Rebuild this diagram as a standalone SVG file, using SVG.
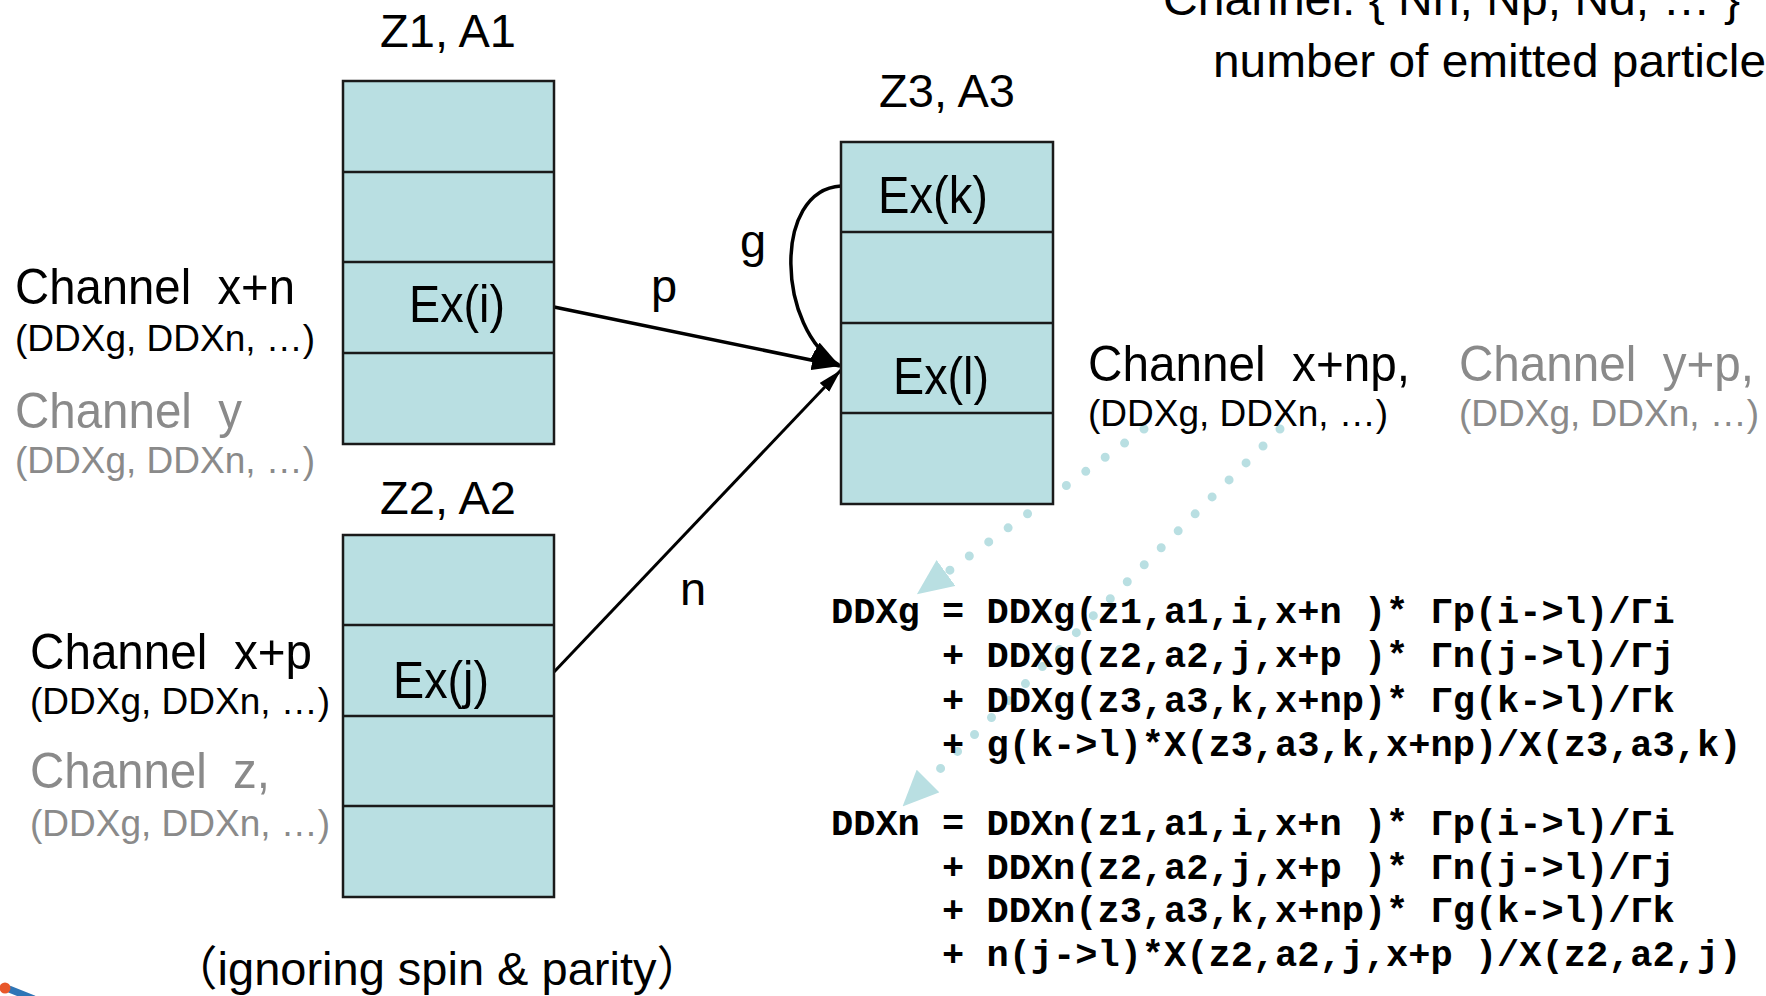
<svg xmlns="http://www.w3.org/2000/svg" width="1766" height="996" viewBox="0 0 1766 996">
  <style>
    .lvl { fill: #b9dfe2; stroke: #1a1a1a; stroke-width: 2.5; }
    .div { stroke: #1a1a1a; stroke-width: 2.5; }
    .sans { font-family: "Liberation Sans", Arial, sans-serif; fill: #000; }
    .big { font-size: 47px; }
    .ch { font-size: 50px; white-space: pre; }
    .ex { font-size: 51px; }
    .sub { font-size: 37px; }
    .grey { fill: #8a8a8a; }
    .eq { font-family: "Liberation Mono", "Courier New", monospace; font-weight: bold; font-size: 37px; fill: #000; white-space: pre; }
    .solid { fill: none; stroke: #000; stroke-width: 3.5; }
    .dots { fill: none; stroke: #b9dfe2; stroke-width: 9; stroke-linecap: round; stroke-dasharray: 0 24; }
  </style>
  <defs>
    <marker id="arrow" markerUnits="userSpaceOnUse" viewBox="0 0 28 20" markerWidth="28" markerHeight="20" refX="28" refY="10" orient="auto">
      <path d="M0,0 L28,10 L0,20 z" fill="#000"/>
    </marker>
    <marker id="arrow-thin" markerUnits="userSpaceOnUse" viewBox="0 0 24 13" markerWidth="24" markerHeight="13" refX="24" refY="6.5" orient="auto">
      <path d="M0,0 L24,6.5 L0,13 z" fill="#000"/>
    </marker>
    <marker id="arrow-dot" markerUnits="userSpaceOnUse" viewBox="0 0 36 32" markerWidth="36" markerHeight="32" refX="0" refY="16" orient="auto">
      <path d="M0,0 L36,16 L0,32 z" fill="#b9dfe2"/>
    </marker>
  </defs>

  <!-- decay connectors -->
  <g id="connectors">
    <path class="dots" d="M1144,429 L946,573" marker-end="url(#arrow-dot)"/>
    <path class="dots" d="M1280,429 L928,781" marker-end="url(#arrow-dot)"/>
    <path class="solid" d="M554,307 L840,366" marker-end="url(#arrow)"/>
    <path class="solid" d="M554,672 L841,370" marker-end="url(#arrow-thin)" style="stroke-width:3"/>
    <path class="solid" d="M841,186 C772,190 777,330 839,365" marker-end="url(#arrow)"/>
    <text class="sans big" x="651" y="302">p</text>
    <text class="sans big" x="740" y="257">g</text>
    <text class="sans big" x="680" y="605">n</text>
  </g>

  <!-- nucleus Z1, A1 -->
  <g id="nucleus1">
    <text class="sans big" x="448" y="47" text-anchor="middle">Z1, A1</text>
    <rect class="lvl" x="343" y="81" width="211" height="363"/>
    <line class="div" x1="343" y1="172" x2="554" y2="172"/>
    <line class="div" x1="343" y1="262" x2="554" y2="262"/>
    <line class="div" x1="343" y1="353" x2="554" y2="353"/>
    <text class="sans ex" x="409" y="322" textLength="96" lengthAdjust="spacingAndGlyphs">Ex(i)</text>
  </g>

  <!-- nucleus Z2, A2 -->
  <g id="nucleus2">
    <text class="sans big" x="448" y="514" text-anchor="middle">Z2, A2</text>
    <rect class="lvl" x="343" y="535" width="211" height="362"/>
    <line class="div" x1="343" y1="625" x2="554" y2="625"/>
    <line class="div" x1="343" y1="716" x2="554" y2="716"/>
    <line class="div" x1="343" y1="806" x2="554" y2="806"/>
    <text class="sans ex" x="393" y="698" textLength="96" lengthAdjust="spacingAndGlyphs">Ex(j)</text>
  </g>

  <!-- nucleus Z3, A3 -->
  <g id="nucleus3">
    <text class="sans big" x="947" y="107" text-anchor="middle">Z3, A3</text>
    <rect class="lvl" x="841" y="142" width="212" height="362"/>
    <line class="div" x1="841" y1="232" x2="1053" y2="232"/>
    <line class="div" x1="841" y1="323" x2="1053" y2="323"/>
    <line class="div" x1="841" y1="413" x2="1053" y2="413"/>
    <text class="sans ex" x="878" y="213" textLength="110" lengthAdjust="spacingAndGlyphs">Ex(k)</text>
    <text class="sans ex" x="893" y="394" textLength="96" lengthAdjust="spacingAndGlyphs">Ex(l)</text>
  </g>

  <!-- channel labels -->
  <g id="channels-z1">
    <text class="sans ch" x="15" y="304" xml:space="preserve" textLength="280" lengthAdjust="spacingAndGlyphs">Channel  x+n</text>
    <text class="sans sub" x="15" y="351">(DDXg, DDXn, …)</text>
    <text class="sans ch grey" x="15" y="428" xml:space="preserve" textLength="227" lengthAdjust="spacingAndGlyphs">Channel  y</text>
    <text class="sans sub grey" x="15" y="473">(DDXg, DDXn, …)</text>
  </g>
  <g id="channels-z2">
    <text class="sans ch" x="30" y="669" xml:space="preserve" textLength="282" lengthAdjust="spacingAndGlyphs">Channel  x+p</text>
    <text class="sans sub" x="30" y="714">(DDXg, DDXn, …)</text>
    <text class="sans ch grey" x="30" y="788" xml:space="preserve" textLength="240" lengthAdjust="spacingAndGlyphs">Channel  z,</text>
    <text class="sans sub grey" x="30" y="836">(DDXg, DDXn, …)</text>
  </g>
  <g id="channels-z3">
    <text class="sans ch" x="1088" y="381" xml:space="preserve" textLength="322" lengthAdjust="spacingAndGlyphs">Channel  x+np,</text>
    <text class="sans sub" x="1088" y="426">(DDXg, DDXn, …)</text>
    <text class="sans ch grey" x="1459" y="381" xml:space="preserve" textLength="295" lengthAdjust="spacingAndGlyphs">Channel  y+p,</text>
    <text class="sans sub grey" x="1459" y="426">(DDXg, DDXn, …)</text>
  </g>

  <!-- channel definition -->
  <g id="legend">
    <text class="sans big" x="1163" y="15" textLength="577" lengthAdjust="spacingAndGlyphs">Channel: { Nn, Np, Nd, … }</text>
    <text class="sans big" x="1213" y="77" textLength="553" lengthAdjust="spacingAndGlyphs">number of emitted particle</text>
  </g>

  <!-- spectrum formulas -->
  <g id="formulas">
    <text class="eq" x="831" y="623" xml:space="preserve">DDXg = DDXg(z1,a1,i,x+n )* Γp(i-&gt;l)/Γi</text>
    <text class="eq" x="831" y="667" xml:space="preserve">     + DDXg(z2,a2,j,x+p )* Γn(j-&gt;l)/Γj</text>
    <text class="eq" x="831" y="712" xml:space="preserve">     + DDXg(z3,a3,k,x+np)* Γg(k-&gt;l)/Γk</text>
    <text class="eq" x="831" y="756" xml:space="preserve">     + g(k-&gt;l)*X(z3,a3,k,x+np)/X(z3,a3,k)</text>
    <text class="eq" x="831" y="835" xml:space="preserve">DDXn = DDXn(z1,a1,i,x+n )* Γp(i-&gt;l)/Γi</text>
    <text class="eq" x="831" y="879" xml:space="preserve">     + DDXn(z2,a2,j,x+p )* Γn(j-&gt;l)/Γj</text>
    <text class="eq" x="831" y="922" xml:space="preserve">     + DDXn(z3,a3,k,x+np)* Γg(k-&gt;l)/Γk</text>
    <text class="eq" x="831" y="966" xml:space="preserve">     + n(j-&gt;l)*X(z2,a2,j,x+p )/X(z2,a2,j)</text>
  </g>

  <!-- note -->
  <text class="sans big" x="437" y="985" text-anchor="middle" style="font-family:'Liberation Sans','Noto Sans CJK JP',sans-serif">（ignoring spin &amp; parity）</text>

  <!-- corner mark -->
  <g id="corner-mark">
    <line x1="9" y1="989" x2="34" y2="999" stroke="#2e75b6" stroke-width="7"/>
    <circle cx="5" cy="988" r="5.5" fill="#e8572a"/>
  </g>
</svg>
